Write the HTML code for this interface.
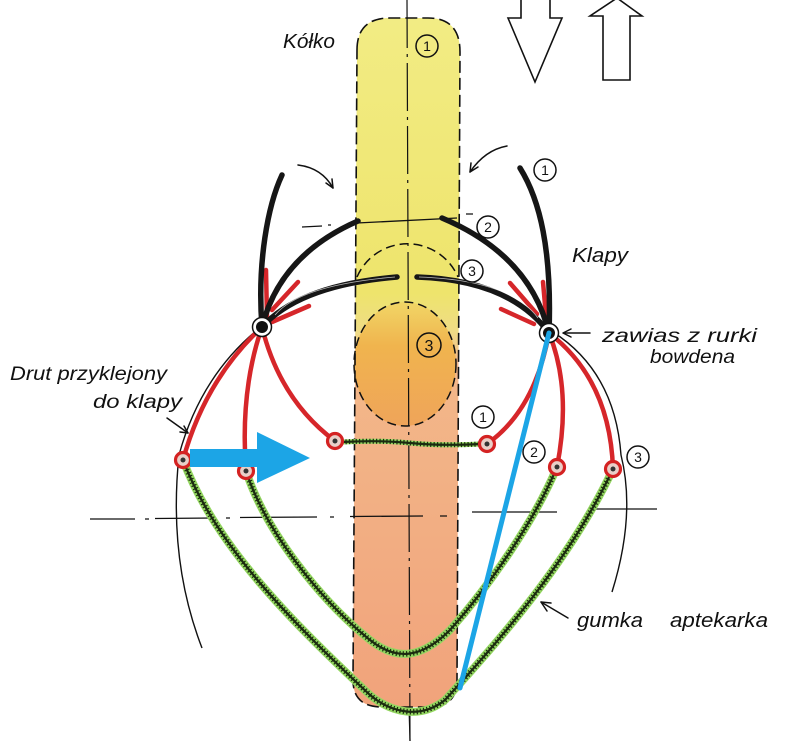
<!DOCTYPE html>
<html><head><meta charset="utf-8"><style>
html,body{margin:0;padding:0;background:#fff;}
svg{display:block;}
.t{font-family:"Liberation Sans",sans-serif;font-style:italic;fill:#111;}
.n{font-family:"Liberation Sans",sans-serif;fill:#111;font-size:14px;text-anchor:middle;}
</style></head><body>
<svg width="800" height="741" viewBox="0 0 800 741" xmlns="http://www.w3.org/2000/svg">
<defs>
<linearGradient id="pg" x1="0" y1="18" x2="0" y2="707" gradientUnits="userSpaceOnUse">
<stop offset="0" stop-color="#f2ec84"/>
<stop offset="0.40" stop-color="#eee46c"/>
<stop offset="0.455" stop-color="#efdc86"/>
<stop offset="0.50" stop-color="#f3b88a"/>
<stop offset="1" stop-color="#f1a37b"/>
</linearGradient>
<linearGradient id="cg" x1="0" y1="302" x2="0" y2="427" gradientUnits="userSpaceOnUse">
<stop offset="0" stop-color="#f1d666"/>
<stop offset="0.35" stop-color="#f0b44e"/>
<stop offset="1" stop-color="#efa45a"/>
</linearGradient>
</defs>
<rect width="800" height="741" fill="#fff"/>

<!-- pill -->
<path d="M357,50 Q357,18 390,18 L428,18 Q460,18 460,52 L457,680 Q457,707 430,707 L382,707 Q353,707 353,680 Z" fill="url(#pg)"/>
<ellipse cx="405" cy="364" rx="51" ry="62" fill="url(#cg)"/>
<path d="M357,50 Q357,18 390,18 L428,18 Q460,18 460,52 L457,680 Q457,707 430,707 L382,707 Q353,707 353,680 Z" fill="none" stroke="#111" stroke-width="1.6" stroke-dasharray="12 5"/>
<ellipse cx="405" cy="364" rx="51" ry="62" fill="none" stroke="#111" stroke-width="1.5" stroke-dasharray="9 5"/>
<path d="M357,277 A55,55 0 0 1 458,277" fill="none" stroke="#111" stroke-width="1.5" stroke-dasharray="9 5"/>

<!-- center line -->
<path d="M407,0 L410,741" stroke="#111" stroke-width="1.2" stroke-dasharray="48 6 3 6" fill="none"/>
<path d="M409,707 L410,741" stroke="#111" stroke-width="1.2"/>

<!-- horizontal line pos 2 -->
<path d="M357,223 L457,218" stroke="#111" stroke-width="1.3"/>
<path d="M302,227 L322,226 M328,225 L331,225 M466,214 L473,214" stroke="#111" stroke-width="1.3"/>

<!-- axis -->
<g stroke="#111" stroke-width="1.3">
<path d="M90,519 L135,519 M145,519 L149,519 M155,518.5 L215,518 M226,518 L230,518 M240,517.5 L317,517 M330,517 L334,517 M350,516.5 L423,516 M440,516 L447,516 M472,512 L557,512 M593,509 L657,509"/>
</g>

<!-- wire / big arcs -->
<path d="M256,331 Q200,378 179,455 Q168,560 202,648" fill="none" stroke="#111" stroke-width="1.4"/>
<path d="M553,332 Q615,372 621,455 Q636,515 612,592" fill="none" stroke="#111" stroke-width="1.4"/>

<!-- gumka lines -->
<g fill="none">
<path d="M183,460 C215,545 290,620 370,695 C390,712 420,720 445,700 C500,640 570,560 613,469" stroke="#93d660" stroke-width="8"/>
<path d="M246,471 C265,530 320,600 370,640 C395,660 420,660 450,630 C490,585 535,520 557,467" stroke="#93d660" stroke-width="8"/>
<path d="M342,442 Q380,440 410,443 T480,444" stroke="#93d660" stroke-width="5"/>
<g stroke="#1b2a10">
<path d="M183,460 C215,545 290,620 370,695 C390,712 420,720 445,700 C500,640 570,560 613,469" stroke-width="2.2"/>
<path d="M246,471 C265,530 320,600 370,640 C395,660 420,660 450,630 C490,585 535,520 557,467" stroke-width="2.2"/>
<path d="M342,442 Q380,440 410,443 T480,444" stroke-width="2.2"/>
<path d="M183,460 C215,545 290,620 370,695 C390,712 420,720 445,700 C500,640 570,560 613,469" stroke-width="5.5" stroke-dasharray="1.2 2.2"/>
<path d="M246,471 C265,530 320,600 370,640 C395,660 420,660 450,630 C490,585 535,520 557,467" stroke-width="5.5" stroke-dasharray="1.2 2.2"/>
<path d="M342,442 Q380,440 410,443 T480,444" stroke-width="5" stroke-dasharray="1.2 2.2"/>
</g>
</g>

<!-- red curves -->
<g fill="none" stroke="#d6262a" stroke-width="4.5" stroke-linecap="round">
<path d="M262,327 Q205,380 183,460"/>
<path d="M262,327 Q240,390 246,471"/>
<path d="M262,327 Q280,400 335,441"/>
<path d="M549,333 Q535,410 487,444"/>
<path d="M549,333 Q572,390 557,467"/>
<path d="M549,333 Q610,380 613,469"/>
<path d="M266,270 L267,318 M298,282 L272,310 M309,306 L272,322"/>
<path d="M543,282 L546,316 M510,283 L537,314 M501,309 L534,324"/>
</g>

<!-- black flaps -->
<g fill="none" stroke="#161616" stroke-width="5.5" stroke-linecap="round">
<path d="M282,175 C268,205 257,262 262,327"/>
<path d="M520,168 C540,200 552,250 549,333"/>
<path d="M262,327 Q280,255 358,221"/>
<path d="M442,218 Q530,255 549,333"/>
<path d="M262,327 Q300,285 397,277"/>
<path d="M417,277 Q510,280 549,333"/>
</g>
<g fill="none" stroke="#fff" stroke-width="0.8" opacity="0.7">
<path d="M275,315 Q300,285 395,277"/>
<path d="M419,277 Q510,280 538,318"/>
</g>

<!-- hinges -->
<circle cx="262" cy="327" r="9.5" fill="#fff" stroke="#111" stroke-width="1.5"/>
<circle cx="262" cy="327" r="6" fill="#111"/>
<circle cx="549" cy="333" r="9.5" fill="#fff" stroke="#111" stroke-width="1.5"/>
<circle cx="549" cy="333" r="6" fill="#111"/>

<!-- rings -->
<g stroke="#d42222" stroke-width="3.2" fill="#e9cfc8">
<circle cx="183" cy="460" r="7.5"/>
<circle cx="246" cy="471" r="7.5"/>
<circle cx="335" cy="441" r="7.5"/>
<circle cx="487" cy="444" r="7.5"/>
<circle cx="557" cy="467" r="7.5"/>
<circle cx="613" cy="469" r="7.5"/>
</g>
<g fill="#333">
<circle cx="183" cy="460" r="2.5"/><circle cx="246" cy="471" r="2.5"/><circle cx="335" cy="441" r="2.5"/>
<circle cx="487" cy="444" r="2.5"/><circle cx="557" cy="467" r="2.5"/><circle cx="613" cy="469" r="2.5"/>
</g>

<!-- blue -->
<rect x="190" y="449" width="68" height="18" fill="#1ca5e6"/>
<polygon points="257,432 310,458 257,483" fill="#1ca5e6"/>
<path d="M549,333 L460,688" stroke="#1ca5e6" stroke-width="5" stroke-linecap="round"/>

<!-- circled numbers -->
<g fill="none" stroke="#111" stroke-width="1.5">
<circle cx="427" cy="46" r="11"/>
<circle cx="545" cy="170" r="11"/>
<circle cx="488" cy="227" r="11"/>
<circle cx="472" cy="271" r="11"/>
<circle cx="429" cy="345" r="12"/>
<circle cx="483" cy="417" r="11"/>
<circle cx="534" cy="452" r="11"/>
<circle cx="638" cy="457" r="11"/>
</g>
<text class="n" x="427" y="51">1</text>
<text class="n" x="545" y="175">1</text>
<text class="n" x="488" y="232">2</text>
<text class="n" x="472" y="276">3</text>
<text class="n" x="429" y="351" style="font-size:16px">3</text>
<text class="n" x="483" y="422">1</text>
<text class="n" x="534" y="457">2</text>
<text class="n" x="638" y="462">3</text>

<!-- big outline arrows -->
<polygon points="521,-1 521,18 508,18 535,82 562,18 550,18 550,-1" fill="#fff" stroke="#111" stroke-width="1.6"/>
<polygon points="617,-2 590,16 603,16 603,80 630,80 630,16 642,16" fill="#fff" stroke="#111" stroke-width="1.6"/>

<!-- curved arrows and pointers -->
<g fill="none" stroke="#111" stroke-width="1.5" stroke-linecap="round" stroke-linejoin="round">
<path d="M298,165 Q322,168 333,188"/>
<polyline points="332,179 333,188 326,183"/>
<path d="M507,146 Q485,150 470,172"/>
<polyline points="478,167 470,172 471,163"/>
<path d="M590,333 L564,333"/>
<polyline points="571,329 563,333 571,337"/>
<path d="M167,418 L188,433"/>
<polyline points="184,426 188,433 180,432"/>
<path d="M568,618 L541,602"/>
<polyline points="547,611 541,602 551,603"/>
</g>

<!-- text -->
<text class="t" x="283" y="48" font-size="20" textLength="52" lengthAdjust="spacingAndGlyphs">Kółko</text>
<text class="t" x="572" y="262" font-size="20" textLength="56" lengthAdjust="spacingAndGlyphs">Klapy</text>
<text class="t" x="602" y="342" font-size="19" textLength="155" lengthAdjust="spacingAndGlyphs">zawias z rurki</text>
<text class="t" x="650" y="363" font-size="19" textLength="85" lengthAdjust="spacingAndGlyphs">bowdena</text>
<text class="t" x="10" y="380" font-size="19" textLength="157" lengthAdjust="spacingAndGlyphs">Drut przyklejony</text>
<text class="t" x="93" y="408" font-size="19" textLength="89" lengthAdjust="spacingAndGlyphs">do klapy</text>
<text class="t" x="577" y="627" font-size="20" textLength="66" lengthAdjust="spacingAndGlyphs">gumka</text>
<text class="t" x="670" y="627" font-size="20" textLength="98" lengthAdjust="spacingAndGlyphs">aptekarka</text>
</svg>
</body></html>
